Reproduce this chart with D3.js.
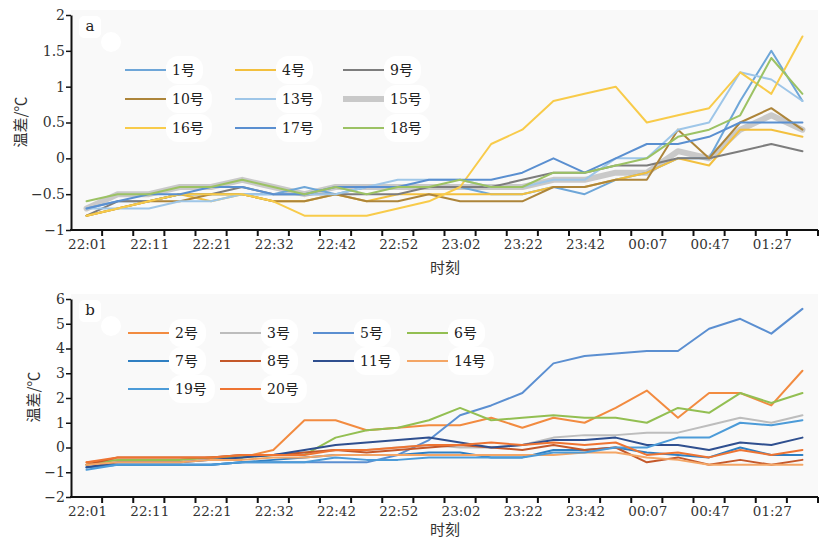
<!DOCTYPE html>
<html><head><meta charset="utf-8">
<script src="https://cdn.jsdelivr.net/npm/d3@7/dist/d3.min.js"></script>
<style>
body{margin:0;background:#fff;}
svg{display:block;}
.tick text{font-family:"DejaVu Serif",serif;}
</style></head>
<body>
<svg id="c" width="819" height="541"></svg>
<script>
// ---------- data ----------
const categories = ["22:01","22:06","22:11","22:16","22:21","22:26","22:32","22:37","22:42","22:47","22:52","22:57",
  "23:02","23:12","23:22","23:32","23:42","23:52","00:07","00:27","00:47","01:07","01:27","01:47"];
const shownLabels = ["22:01","22:11","22:21","22:32","22:42","22:52","23:02","23:22","23:42","00:07","00:47","01:27"];

const topNames = ["1号","4号","9号","10号","13号","15号","16号","17号","18号"];
const s1  = [-0.7,-0.6,-0.6,-0.5,-0.5,-0.5,-0.5,-0.4,-0.5,-0.4,-0.4,-0.4,-0.4,-0.5,-0.5,-0.4,-0.5,-0.3,-0.2,0.0,0.0,0.8,1.5,0.8];
const s4  = [-0.8,-0.7,-0.6,-0.5,-0.6,-0.5,-0.6,-0.6,-0.5,-0.6,-0.5,-0.5,-0.5,-0.5,-0.5,-0.4,-0.4,-0.3,-0.2,0.0,-0.1,0.4,0.4,0.3];
const s9  = [-0.8,-0.6,-0.6,-0.5,-0.5,-0.4,-0.5,-0.5,-0.5,-0.5,-0.5,-0.4,-0.4,-0.4,-0.3,-0.2,-0.2,-0.1,-0.1,0.0,0.0,0.1,0.2,0.1];
const s10 = [-0.8,-0.7,-0.6,-0.6,-0.5,-0.5,-0.6,-0.6,-0.5,-0.6,-0.6,-0.5,-0.6,-0.6,-0.6,-0.4,-0.4,-0.3,-0.3,0.4,0.0,0.5,0.7,0.4];
const s13 = [-0.7,-0.7,-0.7,-0.6,-0.6,-0.5,-0.5,-0.5,-0.5,-0.4,-0.3,-0.3,-0.3,-0.4,-0.4,-0.3,-0.3,0.0,0.0,0.4,0.5,1.2,1.1,0.8];
const s15 = [-0.7,-0.5,-0.5,-0.4,-0.4,-0.3,-0.4,-0.5,-0.4,-0.4,-0.4,-0.4,-0.4,-0.4,-0.4,-0.3,-0.3,-0.2,-0.2,0.1,0.0,0.4,0.6,0.4];
const s16 = [-0.8,-0.7,-0.6,-0.5,-0.5,-0.5,-0.6,-0.8,-0.8,-0.8,-0.7,-0.6,-0.4,0.2,0.4,0.8,0.9,1.0,0.5,0.6,0.7,1.2,0.9,1.7];
const s17 = [-0.7,-0.6,-0.5,-0.5,-0.4,-0.4,-0.5,-0.5,-0.4,-0.4,-0.4,-0.3,-0.3,-0.3,-0.2,0.0,-0.2,0.0,0.2,0.2,0.3,0.5,0.5,0.5];
const s18 = [-0.6,-0.5,-0.5,-0.4,-0.4,-0.3,-0.4,-0.5,-0.4,-0.5,-0.4,-0.4,-0.3,-0.4,-0.4,-0.2,-0.2,-0.1,0.0,0.3,0.4,0.6,1.4,0.9];
const topSeries = [s1,s4,s9,s10,s13,s15,s16,s17,s18];
const topColors = ["#6ea6d8","#f3c03e","#7d7d7d","#ad853a","#9ec6e8","#c9c9c9","#f8cb4a","#5a8fd0","#9cc264"];
const topWidths = [2,2,2,2,2,6,2,2,2];

const botNames = ["2号","3号","5号","6号","7号","8号","11号","14号","19号","20号"];
const b2  = [-0.6,-0.5,-0.5,-0.5,-0.4,-0.4,-0.1,1.1,1.1,0.7,0.8,0.9,0.9,1.2,0.8,1.2,1.0,1.6,2.3,1.2,2.2,2.2,1.7,3.1];
const b3  = [-0.7,-0.5,-0.5,-0.5,-0.4,-0.3,-0.3,-0.2,-0.1,-0.1,0.0,0.1,0.0,0.0,0.1,0.4,0.5,0.5,0.6,0.6,0.9,1.2,1.0,1.3];
const b5  = [-0.8,-0.7,-0.7,-0.7,-0.7,-0.6,-0.6,-0.6,-0.6,-0.6,-0.3,0.3,1.3,1.7,2.2,3.4,3.7,3.8,3.9,3.9,4.8,5.2,4.6,5.6];
const b6  = [-0.7,-0.5,-0.5,-0.5,-0.4,-0.4,-0.3,-0.3,0.4,0.7,0.8,1.1,1.6,1.1,1.2,1.3,1.2,1.2,1.0,1.6,1.4,2.2,1.8,2.2];
const b7  = [-0.8,-0.7,-0.7,-0.7,-0.7,-0.6,-0.5,-0.4,-0.3,-0.3,-0.3,-0.2,-0.2,-0.4,-0.4,-0.1,-0.1,0.0,-0.2,-0.3,-0.4,0.0,-0.3,-0.3];
const b8  = [-0.7,-0.4,-0.4,-0.4,-0.4,-0.3,-0.3,-0.2,-0.1,-0.2,-0.1,0.0,0.1,0.0,-0.1,0.1,-0.1,0.0,-0.6,-0.4,-0.7,-0.5,-0.7,-0.5];
const b11 = [-0.8,-0.6,-0.6,-0.6,-0.5,-0.4,-0.3,-0.1,0.1,0.2,0.3,0.4,0.2,0.0,0.1,0.3,0.3,0.4,0.1,0.1,-0.1,0.2,0.1,0.4];
const b14 = [-0.7,-0.6,-0.6,-0.6,-0.5,-0.5,-0.4,-0.4,-0.3,-0.3,-0.3,-0.3,-0.3,-0.3,-0.3,-0.3,-0.2,-0.2,-0.4,-0.5,-0.7,-0.7,-0.7,-0.7];
const b19 = [-0.9,-0.7,-0.7,-0.7,-0.7,-0.6,-0.6,-0.6,-0.4,-0.5,-0.5,-0.4,-0.4,-0.4,-0.4,-0.2,-0.2,0.0,0.0,0.4,0.4,1.0,0.9,1.1];
const b20 = [-0.6,-0.4,-0.4,-0.4,-0.4,-0.3,-0.3,-0.3,-0.1,-0.1,0.0,0.1,0.1,0.2,0.1,0.2,0.1,0.2,-0.3,-0.2,-0.4,-0.1,-0.3,-0.1];
const botSeries = [b2,b3,b5,b6,b7,b8,b11,b14,b19,b20];
const botColors = ["#f28b40","#bdbdbd","#5b8fd1","#93bf52","#2f7fc2","#c4582a","#2f4f8f","#f4a666","#4c9bd8","#ee7432"];

const topYTicks = [-1,-0.5,0,0.5,1,1.5,2];
const topYLabels = ["\u22121","\u22120.5","0","0.5","1","1.5","2"];
const botYTicks = [-2,-1,0,1,2,3,4,5,6];
const botYLabels = ["\u22122","\u22121","0","1","2","3","4","5","6"];

// ---------- drawing ----------
const svg = d3.select("#c");
const xL = 71, xR = 818;

function panel(opt){
  const x = d3.scaleBand().domain(categories).range([xL, xR]).padding(0);
  const y = d3.scaleLinear().domain(opt.domain).range([opt.bottom, opt.top]);
  const bw = x.bandwidth();
  const g = svg.append("g");
  // plot background
  g.append("rect").attr("x", xL).attr("y", opt.top - 5).attr("width", xR - xL).attr("height", opt.bottom - opt.top + 5).attr("fill", "#f9f9f9");
  // panel letter box
  g.append("rect").attr("x", xL+8).attr("y", opt.top + 1).attr("width", 22).attr("height", 22).attr("rx", 5).attr("fill", "#fff");
  g.append("circle").attr("cx", xL+40).attr("cy", opt.top + 27).attr("r", 10).attr("fill", "#fff");
  g.append("text").attr("x", xL+19).attr("y", opt.top + 16).attr("text-anchor","middle")
    .attr("font-family","DejaVu Serif, serif").attr("font-size", 15).attr("fill","#222").text(opt.letter);

  // lines
  const line = d3.line().x((d,i)=>x(categories[i]) + bw/2).y(d=>y(d));
  const order = opt.series.map((s,i)=>i);
  if (opt.drawFirst !== undefined) { order.splice(order.indexOf(opt.drawFirst),1); order.unshift(opt.drawFirst); }
  order.forEach(i=>{
    g.append("path").datum(opt.series[i]).attr("d", line).attr("fill","none")
      .attr("stroke", opt.colors[i]).attr("stroke-width", opt.widths ? opt.widths[i] : 2)
      .attr("stroke-linejoin","round").attr("stroke-linecap","round");
  });

  // y axis
  const ya = d3.axisLeft(y).tickValues(opt.yTicks).tickSize(5).tickSizeOuter(0)
    .tickFormat((d,i)=>opt.yLabels[i]);
  const yg = g.append("g").attr("transform", `translate(${xL},0)`).call(ya);
  yg.select(".domain").attr("stroke","#111").attr("stroke-width",2);
  yg.selectAll(".tick line").attr("stroke","#111").attr("stroke-width",1.5);
  yg.selectAll(".tick text").attr("font-size",14).attr("fill","#333").attr("x",-6);

  // x axis
  g.append("line").attr("x1", xL-1).attr("x2", xR).attr("y1", opt.bottom).attr("y2", opt.bottom)
    .attr("stroke","#111").attr("stroke-width",2);
  const bounds = categories.map(c=>x(c)).concat([x(categories[categories.length-1]) + bw]);
  g.selectAll(null).data(bounds.slice(1)).enter().append("line")
    .attr("x1", d=>d).attr("x2", d=>d).attr("y1", opt.bottom).attr("y2", opt.bottom + 6)
    .attr("stroke","#111").attr("stroke-width",2);
  g.selectAll(null).data(shownLabels).enter().append("text")
    .attr("x", d=>x(d) + bw/2 + 1).attr("y", opt.bottom + 19).attr("text-anchor","middle")
    .attr("font-family","DejaVu Serif, serif").attr("font-size",13.5).attr("fill","#333").text(d=>d);

  // axis titles
  g.append("text").attr("x", 445).attr("y", opt.bottom + opt.xTitleDy).attr("text-anchor","middle")
    .attr("font-family","Noto Sans CJK SC, sans-serif").attr("font-size",15).attr("fill","#333").text("时刻");
  g.append("text").attr("transform", `translate(${opt.titleX},${opt.titleY}) rotate(-90)`).attr("text-anchor","middle")
    .attr("dominant-baseline","central")
    .attr("font-family","Noto Sans CJK SC, sans-serif").attr("font-size",15).attr("fill","#333").text("温差/℃");

  // legend
  opt.names.forEach((n,i)=>{
    const col = i % opt.cols, row = Math.floor(i / opt.cols);
    const lx = opt.legX[col], ly = opt.legY[row];
    const tx = lx + opt.legLen + opt.legGap;
    const t = g.append("text").attr("x", tx).attr("y", ly).attr("dominant-baseline","central")
      .attr("font-family","DejaVu Serif, Noto Sans CJK SC, serif").attr("font-size",14).attr("fill","#222").text(n);
    const w = t.node().getComputedTextLength();
    g.insert("rect", () => t.node()).attr("x", tx - 6).attr("y", ly - 14).attr("width", w + 14).attr("height", 28)
      .attr("rx", 12).attr("fill", "#fff");
    g.append("line").attr("x1", lx).attr("x2", lx + opt.legLen).attr("y1", ly).attr("y2", ly)
      .attr("stroke", opt.colors[i]).attr("stroke-width", opt.widths ? opt.widths[i] : 2);
  });
}

panel({
  domain:[-1,2], top:15, bottom:230, letter:"a",
  series: topSeries, colors: topColors, widths: topWidths, names: topNames, drawFirst: 5,
  yTicks: topYTicks, yLabels: topYLabels,
  cols:3, legX:[125,235,343], legY:[70,99,128], legLen:41, legGap:6,
  titleX:19, titleY:122, xTitleDy:43
});
panel({
  domain:[-2,6], top:299, bottom:497, letter:"b",
  series: botSeries, colors: botColors, names: botNames,
  yTicks: botYTicks, yLabels: botYLabels,
  cols:4, legX:[128,220,313,407], legY:[333,361,389], legLen:41, legGap:6,
  titleX:32, titleY:397, xTitleDy:38
});
</script>
</body></html>
